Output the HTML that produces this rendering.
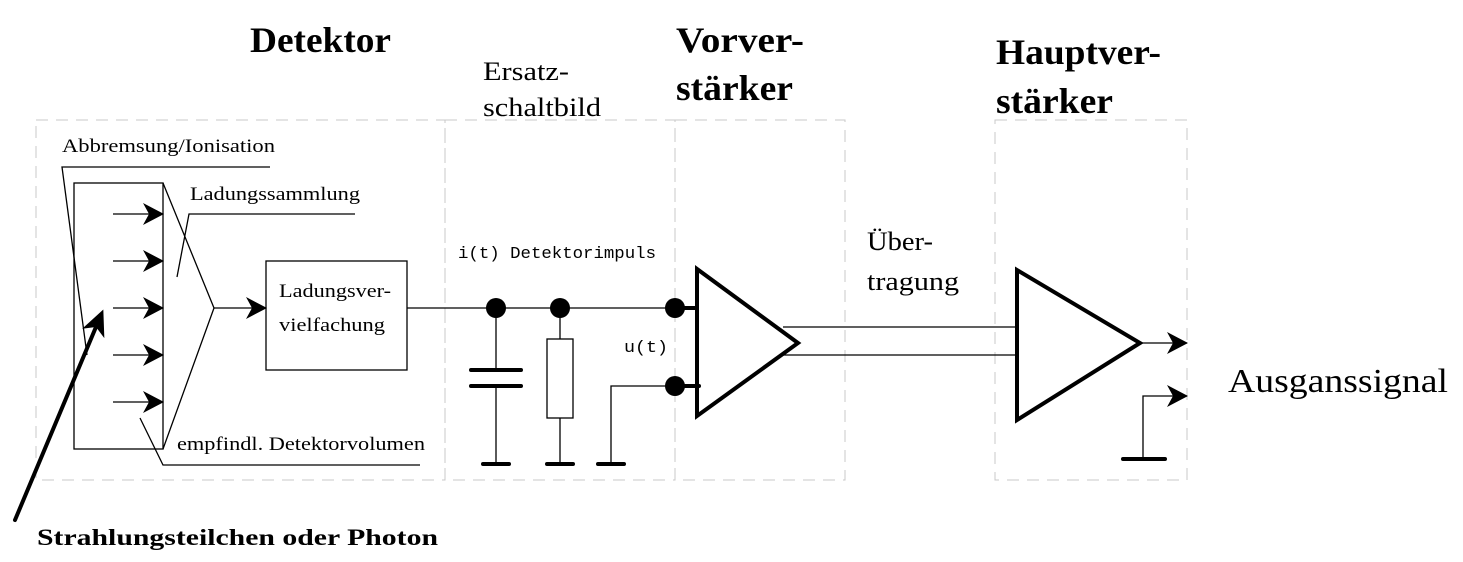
<!DOCTYPE html>
<html><head><meta charset="utf-8"><style>body{margin:0;background:#fff}svg{display:block}
.s{font-family:"Liberation Serif","Times New Roman",Times,serif}
.m{font-family:"Liberation Mono","DejaVu Sans Mono",monospace}
</style></head>
<body>
<svg width="1463" height="562" viewBox="0 0 1463 562" xmlns="http://www.w3.org/2000/svg">
<defs>
<marker id="ah" markerWidth="24" markerHeight="24" refX="22" refY="12" orient="auto" markerUnits="userSpaceOnUse">
<path d="M2,1 L23,12 L2,23 L8,12 Z" fill="#000"/></marker>
<marker id="ah2" markerWidth="28" markerHeight="28" refX="20" refY="14" orient="auto" markerUnits="userSpaceOnUse">
<path d="M0,2 L26,14 L0,26 L7,14 Z" fill="#000"/></marker>
</defs>
<g fill="none" stroke="#c8c8c8" stroke-width="1" stroke-dasharray="12,8">
<rect x="36" y="120" width="409" height="360"/>
<rect x="445" y="120" width="230" height="360"/>
<rect x="675" y="120" width="170" height="360"/>
<rect x="995" y="120" width="192" height="360"/>
</g>
<g class="s" fill="#000">
<text x="250" y="52" font-size="36" font-weight="bold" textLength="141" lengthAdjust="spacingAndGlyphs">Detektor</text>
<text x="676" y="52" font-size="36" font-weight="bold" textLength="128" lengthAdjust="spacingAndGlyphs">Vorver-</text>
<text x="676" y="100" font-size="36" font-weight="bold" textLength="117" lengthAdjust="spacingAndGlyphs">stärker</text>
<text x="996" y="64" font-size="36" font-weight="bold" textLength="165" lengthAdjust="spacingAndGlyphs">Hauptver-</text>
<text x="996" y="113" font-size="36" font-weight="bold" textLength="117" lengthAdjust="spacingAndGlyphs">stärker</text>
<text x="483" y="80" font-size="26" textLength="86" lengthAdjust="spacingAndGlyphs">Ersatz-</text>
<text x="483" y="116" font-size="26" textLength="118" lengthAdjust="spacingAndGlyphs">schaltbild</text>
<text x="867" y="250" font-size="26" textLength="66" lengthAdjust="spacingAndGlyphs">Über-</text>
<text x="867" y="290" font-size="26" textLength="92" lengthAdjust="spacingAndGlyphs">tragung</text>
<text x="1228" y="392" font-size="34" textLength="220" lengthAdjust="spacingAndGlyphs">Ausganssignal</text>
<text x="37" y="545" font-size="23" font-weight="bold" textLength="401" lengthAdjust="spacingAndGlyphs">Strahlungsteilchen oder Photon</text>
<text x="62" y="152" font-size="19" textLength="213" lengthAdjust="spacingAndGlyphs">Abbremsung/Ionisation</text>
<text x="190" y="200" font-size="19" textLength="170" lengthAdjust="spacingAndGlyphs">Ladungssammlung</text>
<text x="177" y="450" font-size="19" textLength="248" lengthAdjust="spacingAndGlyphs">empfindl. Detektorvolumen</text>
<text x="279" y="297" font-size="19" textLength="112" lengthAdjust="spacingAndGlyphs">Ladungsver-</text>
<text x="279" y="331" font-size="19" textLength="106" lengthAdjust="spacingAndGlyphs">vielfachung</text>
</g>
<g class="m" fill="#000" font-size="17">
<text x="458" y="258" textLength="198" lengthAdjust="spacingAndGlyphs">i(t) Detektorimpuls</text>
<text x="624" y="352" textLength="44" lengthAdjust="spacingAndGlyphs">u(t)</text>
</g>
<g fill="none" stroke="#000" stroke-width="1.3">
<rect x="74" y="183" width="89" height="266"/>
<polyline points="270,167 62,167 87,355"/>
<polyline points="355,214 189,214 177,277"/>
<polyline points="163,183 214,308 163,449"/>
<polyline points="140,418 163,465 420,465"/>
<line x1="113" y1="214" x2="163" y2="214" marker-end="url(#ah)"/>
<line x1="113" y1="261" x2="163" y2="261" marker-end="url(#ah)"/>
<line x1="113" y1="308" x2="163" y2="308" marker-end="url(#ah)"/>
<line x1="113" y1="355" x2="163" y2="355" marker-end="url(#ah)"/>
<line x1="113" y1="402" x2="163" y2="402" marker-end="url(#ah)"/>
<line x1="214" y1="308" x2="266" y2="308" marker-end="url(#ah)"/>
<rect x="266" y="261" width="141" height="109"/>
<line x1="407" y1="308" x2="675" y2="308"/>
<rect x="547" y="339" width="26" height="79"/>
<line x1="496" y1="308" x2="496" y2="370"/>
<line x1="496" y1="386" x2="496" y2="463"/>
<line x1="560" y1="308" x2="560" y2="339"/>
<line x1="560" y1="418" x2="560" y2="463"/>
<polyline points="611,463 611,386 675,386"/>
<line x1="783" y1="327" x2="1017" y2="327"/>
<line x1="783" y1="355" x2="1017" y2="355"/>
<line x1="1140" y1="343" x2="1187" y2="343" marker-end="url(#ah)"/>
<polyline points="1143,459 1143,396 1187,396" marker-end="url(#ah)"/>
</g>
<g stroke="#000" stroke-width="4" fill="none" stroke-linecap="round">
<line x1="471" y1="370" x2="521" y2="370"/>
<line x1="471" y1="386" x2="521" y2="386"/>
<line x1="483" y1="464" x2="509" y2="464"/>
<line x1="547" y1="464" x2="573" y2="464"/>
<line x1="598" y1="464" x2="624" y2="464"/>
<line x1="1123" y1="459" x2="1165" y2="459"/>
<line x1="675" y1="308" x2="697" y2="308"/>
<line x1="675" y1="386" x2="699" y2="386"/>
<polygon points="697,269 697,416 798,343" stroke-linejoin="miter"/>
<polygon points="1017,270 1017,420 1140,343" stroke-linejoin="miter"/>
<line x1="15" y1="520" x2="101" y2="315" marker-end="url(#ah2)"/>
</g>
<g fill="#000">
<circle cx="496" cy="308" r="10"/><circle cx="560" cy="308" r="10"/>
<circle cx="675" cy="308" r="10"/><circle cx="675" cy="386" r="10"/>
</g>
</svg>
</body></html>
